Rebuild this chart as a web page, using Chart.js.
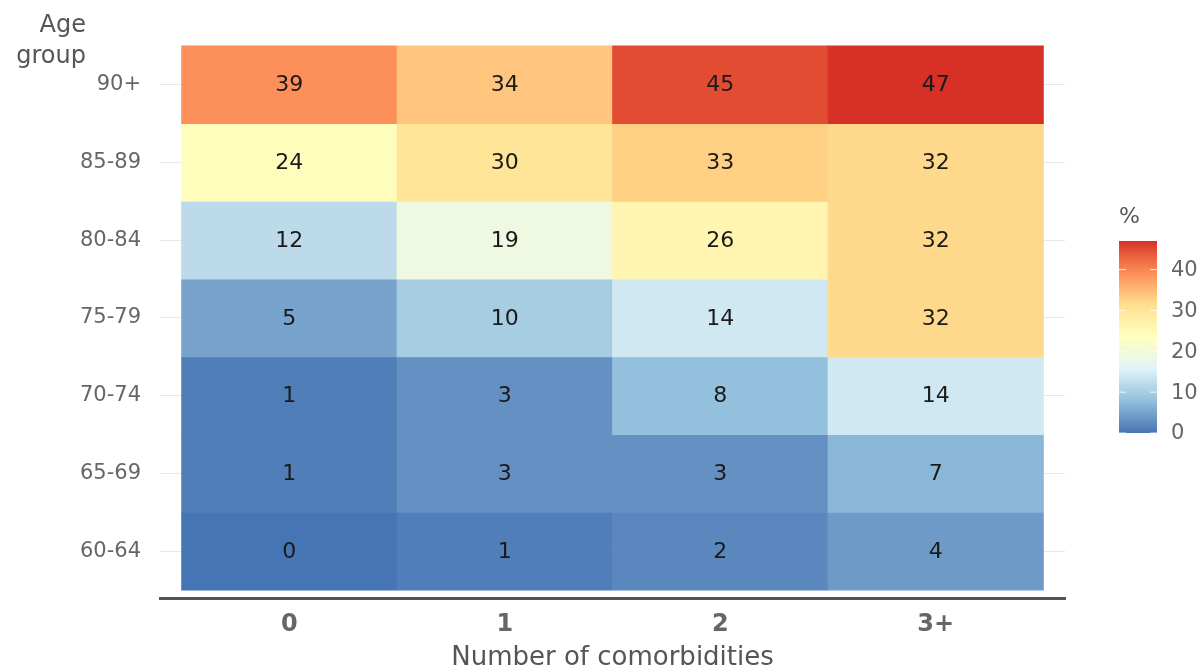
<!DOCTYPE html>
<html>
<head>
<meta charset="utf-8">
<script src="https://cdn.jsdelivr.net/npm/chart.js@4/dist/chart.umd.min.js"></script>
<style>
  html, body { margin: 0; padding: 0; background: #fff; }
  #wrap { width: 1203px; height: 671px; }
</style>
</head>
<body>
<div id="wrap"><canvas id="heat" width="1203" height="671"></canvas></div>
<script>
(function () {
  "use strict";

  // data, rows from bottom (60-64) to top (90+)
  var comorbidities = ["0", "1", "2", "3+"];
  var ageGroups = ["60-64", "65-69", "70-74", "75-79", "80-84", "85-89", "90+"];
  var pct = [
    [0, 1, 2, 4],
    [1, 3, 3, 7],
    [1, 3, 8, 14],
    [5, 10, 14, 32],
    [12, 19, 26, 32],
    [24, 30, 33, 32],
    [39, 34, 45, 47]
  ];
  var legendTicks = [0, 10, 20, 30, 40];
  var V_MAX = 47;

  var TEXT = "#666666";
  var TITLE = "#555555";
  var FONT = "'DejaVu Sans', sans-serif";

  // RdYlBu 7-class, reversed, interpolated in Lab
  var STOPS = ["#4575b4", "#91bfdb", "#e0f3f8", "#ffffbf", "#fee090", "#fc8d59", "#d73027"];
  function toLab(h) {
    var c = [1, 3, 5].map(function (i) {
      var v = parseInt(h.substr(i, 2), 16) / 255;
      return v <= 0.04045 ? v / 12.92 : Math.pow((v + 0.055) / 1.055, 2.4);
    });
    var X = (0.4124 * c[0] + 0.3576 * c[1] + 0.1805 * c[2]) / 0.95047;
    var Y = 0.2126 * c[0] + 0.7152 * c[1] + 0.0722 * c[2];
    var Z = (0.0193 * c[0] + 0.1192 * c[1] + 0.9505 * c[2]) / 1.08883;
    function f(t) { return t > 0.008856 ? Math.cbrt(t) : 7.787 * t + 16 / 116; }
    return [116 * f(Y) - 16, 500 * (f(X) - f(Y)), 200 * (f(Y) - f(Z))];
  }
  function fromLab(L, a, b) {
    var fy = (L + 16) / 116, fx = fy + a / 500, fz = fy - b / 200;
    function g(t) { return t * t * t > 0.008856 ? t * t * t : (t - 16 / 116) / 7.787; }
    var X = g(fx) * 0.95047, Y = g(fy), Z = g(fz) * 1.08883;
    var r = 3.2406 * X - 1.5372 * Y - 0.4986 * Z;
    var gg = -0.9689 * X + 1.8758 * Y + 0.0415 * Z;
    var bb = 0.0557 * X - 0.2040 * Y + 1.0570 * Z;
    return "rgb(" + [r, gg, bb].map(function (v) {
      v = v <= 0.0031308 ? 12.92 * v : 1.055 * Math.pow(v, 1 / 2.4) - 0.055;
      return Math.round(Math.max(0, Math.min(1, v)) * 255);
    }).join(",") + ")";
  }
  var LAB = STOPS.map(toLab);
  function colorFor(v) {
    var t = Math.max(0, Math.min(1, v / V_MAX)) * (LAB.length - 1);
    var i = Math.min(Math.floor(t), LAB.length - 2), f = t - i;
    var a = LAB[i], b = LAB[i + 1];
    return fromLab(a[0] + (b[0] - a[0]) * f, a[1] + (b[1] - a[1]) * f, a[2] + (b[2] - a[2]) * f);
  }

  var cells = [];
  pct.forEach(function (row, r) {
    row.forEach(function (v, c) { cells.push({ x: c, y: [r - 0.5, r + 0.5], v: v }); });
  });

  var cellLabels = {
    id: "cellLabels",
    afterDatasetsDraw: function (chart) {
      var ctx = chart.ctx;
      ctx.save();
      ctx.font = "22px " + FONT;
      ctx.fillStyle = "#1a1a1a";
      ctx.textAlign = "center";
      ctx.textBaseline = "middle";
      chart.getDatasetMeta(0).data.forEach(function (bar, i) {
        var p = bar.getProps(["x", "y", "base"], true);
        ctx.fillText(String(cells[i].v), p.x, (p.y + p.base) / 2 + 1);
      });
      ctx.restore();
    }
  };

  var extras = {
    id: "extras",
    afterDraw: function (chart) {
      var ctx = chart.ctx;
      ctx.save();
      // y title
      ctx.fillStyle = TITLE;
      ctx.font = "24px " + FONT;
      ctx.textAlign = "right";
      ctx.textBaseline = "alphabetic";
      ctx.fillText("Age", 86, 32);
      ctx.fillText("group", 86, 63);

      // colour bar
      var x0 = 1119, w = 38, top = 241, bot = 433;
      for (var yy = top; yy < bot; yy++) {
        ctx.fillStyle = colorFor((bot - yy - 0.5) / (bot - top) * V_MAX);
        ctx.fillRect(x0, yy, w, 1);
      }
      ctx.textBaseline = "middle";
      ctx.font = "22px " + FONT;
      ctx.textAlign = "left";
      ctx.fillStyle = TITLE;
      ctx.fillText("%", 1119, 217);
      ctx.font = "21px " + FONT;
      legendTicks.forEach(function (t) {
        var y = bot - t / V_MAX * (bot - top);
        ctx.strokeStyle = "rgba(255,255,255,0.8)";
        ctx.lineWidth = 1;
        ctx.beginPath();
        ctx.moveTo(x0, y); ctx.lineTo(x0 + 7, y);
        ctx.moveTo(x0 + w - 7, y); ctx.lineTo(x0 + w, y);
        ctx.stroke();
        ctx.fillStyle = TEXT;
        ctx.fillText(String(t), 1171, y + 1);
      });
      ctx.restore();
    }
  };

  new Chart(document.getElementById("heat"), {
    type: "bar",
    data: {
      datasets: [{
        data: cells,
        backgroundColor: function (c) { return c.raw ? colorFor(c.raw.v) : "#ccc"; },
        borderWidth: 0,
        barPercentage: 1,
        categoryPercentage: 1
      }]
    },
    options: {
      responsive: false,
      animation: false,
      devicePixelRatio: 1,
      layout: { padding: { top: 38, right: 138, left: 0, bottom: 0 } },
      plugins: { legend: { display: false }, tooltip: { enabled: false } },
      scales: {
        x: {
          type: "linear", min: -0.6, max: 3.6, offset: false,
          afterBuildTicks: function (s) { s.ticks = comorbidities.map(function (_, i) { return { value: i }; }); },
          afterFit: function (s) { s.height = 73; },
          grid: { display: false, offset: false, drawTicks: false },
          border: { display: true, color: "#555555", width: 3 },
          ticks: {
            padding: 12, color: TEXT,
            font: { family: FONT, size: 24, weight: "bold" },
            callback: function (v) { return comorbidities[v]; }
          },
          title: {
            display: true, text: "Number of comorbidities", color: TITLE,
            font: { family: FONT, size: 26, lineHeight: 1 }, padding: { top: 4, bottom: 0 }
          }
        },
        y: {
          type: "linear", min: -0.6, max: 6.6,
          afterBuildTicks: function (s) { s.ticks = ageGroups.map(function (_, i) { return { value: i }; }); },
          afterFit: function (s) { s.width = 160; },
          grid: { color: "#e8e8e8", lineWidth: 1, drawTicks: false },
          border: { display: false },
          ticks: {
            padding: 19, color: TEXT,
            font: { family: FONT, size: 21 },
            callback: function (v) { return ageGroups[v]; }
          }
        }
      }
    },
    plugins: [cellLabels, extras]
  });
})();
</script>
</body>
</html>
